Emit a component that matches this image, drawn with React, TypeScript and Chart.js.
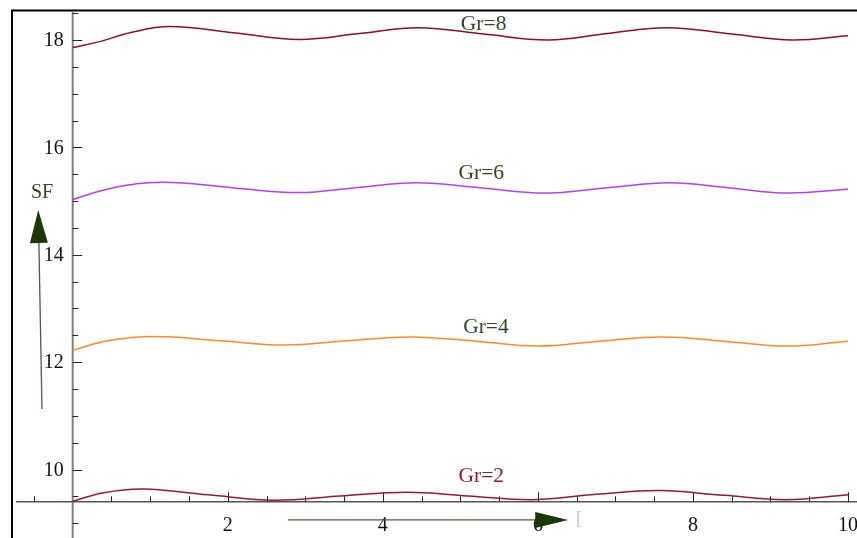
import { useEffect, useRef } from "react";
import { Chart, registerables } from "chart.js";

Chart.register(...registerables);

// Stream function SF against distance for four Grashof numbers
const gr8X = [0, 0.35, 0.75, 1.25, 2.1, 2.92, 3.7, 4.46, 5.3, 6.13, 6.9, 7.67, 8.5, 9.28, 10];
const gr8SF = [17.86, 17.97, 18.14, 18.25, 18.13, 18.01, 18.12, 18.23, 18.11, 18.0, 18.12, 18.23, 18.11, 18.0, 18.08];

const gr6X = [0, 0.5, 1.15, 2.05, 2.92, 3.65, 4.43, 5.25, 6.07, 6.9, 7.7, 8.45, 9.21, 10];
const gr6SF = [15.03, 15.24, 15.35, 15.25, 15.16, 15.25, 15.34, 15.25, 15.15, 15.25, 15.34, 15.25, 15.15, 15.22];

const gr4X = [0, 0.45, 1.05, 1.9, 2.72, 3.55, 4.36, 5.2, 6.0, 6.8, 7.61, 8.4, 9.21, 10];
const gr4SF = [12.22, 12.4, 12.48, 12.4, 12.32, 12.4, 12.47, 12.39, 12.3, 12.39, 12.47, 12.39, 12.3, 12.39];

const gr2X = [0, 0.4, 0.91, 1.75, 2.6, 3.45, 4.31, 5.1, 5.94, 6.75, 7.57, 8.4, 9.2, 10];
const gr2SF = [9.41, 9.57, 9.64, 9.53, 9.43, 9.51, 9.58, 9.51, 9.44, 9.54, 9.61, 9.52, 9.44, 9.53];

const seriesNames = ["Gr=8", "Gr=6", "Gr=4", "Gr=2"];

// Axis ticks
const xMajorTicks = [2, 4, 6, 8, 10];
const yMajorTicks = [10, 12, 14, 16, 18];

const W = 857;
const H = 538;

const SERIF = '"Liberation Serif", "DejaVu Serif", serif';
const GREEN_TEXT = "#2d4a18";

const pairs = (xs: number[], ys: number[]) => xs.map((x, i) => ({ x, y: ys[i] }));

// Curve labels, placed in data coordinates (x centre, y baseline)
const curveLabels = [
  { text: seriesNames[0], x: 5.3, y: 18.186, color: GREEN_TEXT },
  { text: seriesNames[1], x: 5.27, y: 15.41, color: GREEN_TEXT },
  { text: seriesNames[2], x: 5.33, y: 12.54, color: GREEN_TEXT },
  { text: seriesNames[3], x: 5.27, y: 9.775, color: "#8b1a2b" },
];

const axesPlugin = {
  id: "crossedAxes",
  beforeDatasetsDraw(chart: any) {
    const { ctx, scales } = chart;
    const xs = scales.x;
    const ys = scales.y;
    const x0 = xs.getPixelForValue(0);
    const yAxis = ys.getPixelForValue(9.4);

    ctx.save();
    // outer frame (left and top edges)
    ctx.strokeStyle = "#000";
    ctx.lineWidth = 2;
    ctx.beginPath();
    ctx.moveTo(12, H);
    ctx.lineTo(12, 10.5);
    ctx.lineTo(W, 10.5);
    ctx.stroke();

    // vertical axis
    ctx.strokeStyle = "#808080";
    ctx.lineWidth = 2;
    ctx.beginPath();
    ctx.moveTo(x0, 11);
    ctx.lineTo(x0, H);
    ctx.stroke();

    // horizontal axis
    ctx.strokeStyle = "#555";
    ctx.lineWidth = 1.5;
    ctx.beginPath();
    ctx.moveTo(xs.getPixelForValue(-0.73), yAxis);
    ctx.lineTo(W, yAxis);
    ctx.stroke();

    // y ticks every 0.5, pointing right
    ctx.strokeStyle = "#222";
    ctx.lineWidth = 1;
    for (let v = 9; v <= 18.51; v += 0.5) {
      const py = Math.round(ys.getPixelForValue(v)) + 0.5;
      const major = yMajorTicks.includes(Math.round(v * 2) / 2);
      ctx.beginPath();
      ctx.moveTo(x0, py);
      ctx.lineTo(x0 + (major ? 9.5 : 5.5), py);
      ctx.stroke();
    }
    // x ticks every 0.5, pointing up
    for (let v = -0.5; v <= 10.01; v += 0.5) {
      if (Math.abs(v) < 1e-6) continue;
      const px = Math.round(xs.getPixelForValue(v)) + 0.5;
      const major = xMajorTicks.includes(Math.round(v * 2) / 2);
      ctx.beginPath();
      ctx.moveTo(px, yAxis);
      ctx.lineTo(px, yAxis - (major ? 9.5 : 5.5));
      ctx.stroke();
    }

    // tick labels
    ctx.fillStyle = "#111";
    ctx.font = `20px ${SERIF}`;
    ctx.textAlign = "right";
    ctx.textBaseline = "middle";
    yMajorTicks.forEach((v) => {
      ctx.fillText(String(v), x0 - 9, ys.getPixelForValue(v) + 1);
    });
    ctx.textAlign = "center";
    xMajorTicks.forEach((v) => {
      ctx.fillText(String(v), xs.getPixelForValue(v), yAxis + 24);
    });
    ctx.restore();
  },
  afterDatasetsDraw(chart: any) {
    const { ctx, scales } = chart;
    const xs = scales.x;
    const ys = scales.y;
    const P = (x: number, y: number) => [xs.getPixelForValue(x), ys.getPixelForValue(y)];

    ctx.save();
    ctx.font = `21.5px ${SERIF}`;
    ctx.textAlign = "center";
    ctx.textBaseline = "alphabetic";
    curveLabels.forEach((l) => {
      const [px, py] = P(l.x, l.y);
      ctx.fillStyle = l.color;
      ctx.fillText(l.text, px, py);
    });

    // axis name
    ctx.font = `20px ${SERIF}`;
    ctx.fillStyle = GREEN_TEXT;
    const [sx, sy] = P(-0.396, 15.058);
    ctx.fillText("SF", sx, sy);

    const arrow = (tail: number[], tip: number[], len: number, half: number) => {
      const dx = tip[0] - tail[0];
      const dy = tip[1] - tail[1];
      const d = Math.hypot(dx, dy);
      const ux = dx / d;
      const uy = dy / d;
      const bx = tip[0] - ux * len;
      const by = tip[1] - uy * len;
      ctx.strokeStyle = "#45633a";
      ctx.lineWidth = 1.3;
      ctx.beginPath();
      ctx.moveTo(tail[0], tail[1]);
      ctx.lineTo(bx, by);
      ctx.stroke();
      ctx.fillStyle = "#1c3806";
      ctx.beginPath();
      ctx.moveTo(tip[0], tip[1]);
      ctx.lineTo(bx - uy * half, by + ux * half);
      ctx.lineTo(bx + uy * half, by - ux * half);
      ctx.closePath();
      ctx.fill();
    };
    arrow(P(-0.396, 11.129), P(-0.444, 14.834), 33, 9);
    arrow(P(2.777, 9.062), P(6.392, 9.062), 33, 8);

    ctx.font = `18px ${SERIF}`;
    ctx.fillStyle = "#c4c4c4";
    ctx.textAlign = "center";
    ctx.textBaseline = "middle";
    const [bx, by] = P(6.53, 9.08);
    ctx.fillText("[", bx, by);
    ctx.restore();
  },
};

export default function App() {
  const canvasRef = useRef<HTMLCanvasElement | null>(null);

  useEffect(() => {
    if (!canvasRef.current) return;
    const line = (label: string, xs: number[], ys: number[], color: string) => ({
      label,
      data: pairs(xs, ys),
      borderColor: color,
      borderWidth: 1.5,
      pointRadius: 0,
      fill: false,
      tension: 0.4,
    });
    const chart = new Chart(canvasRef.current, {
      type: "line",
      data: {
        datasets: [
          line(seriesNames[0], gr8X, gr8SF, "#8c0f2e"),
          line(seriesNames[1], gr6X, gr6SF, "#b43ff2"),
          line(seriesNames[2], gr4X, gr4SF, "#ff8a22"),
          line(seriesNames[3], gr2X, gr2SF, "#991836"),
        ],
      },
      options: {
        responsive: false,
        animation: false,
        layout: { padding: 0 },
        plugins: { legend: { display: false }, tooltip: { enabled: false } },
        scales: {
          x: { type: "linear", min: -0.9377, max: 10.116, display: false },
          y: { type: "linear", min: 8.726, max: 18.745, display: false },
        },
      },
      plugins: [axesPlugin],
    });
    return () => chart.destroy();
  }, []);

  return (
    <div style={{ position: "fixed", left: 0, top: 0, width: W, height: H, background: "#fff" }}>
      <canvas ref={canvasRef} width={W} height={H} style={{ display: "block" }} />
    </div>
  );
}
